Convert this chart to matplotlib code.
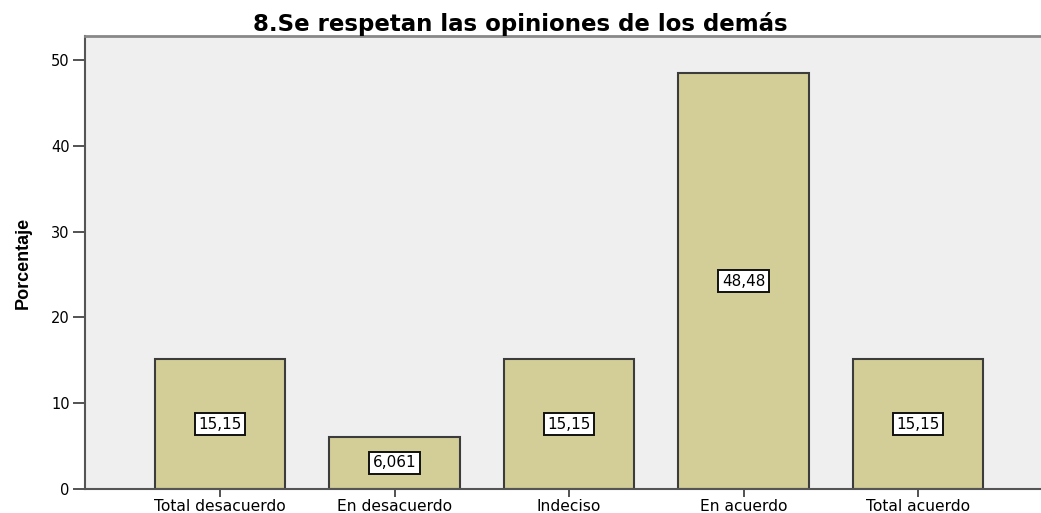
import matplotlib
matplotlib.use("Agg")
import matplotlib.pyplot as plt
import numpy as np

categorias = ["Total desacuerdo", "En desacuerdo", "Indeciso", "En acuerdo", "Total acuerdo"]
porcentajes = [15.15, 6.061, 15.15, 48.48, 15.15]
etiquetas = ["15,15", "6,061", "15,15", "48,48", "15,15"]
y_ticks = [0, 10, 20, 30, 40, 50]

fig = plt.figure(figsize=(10.41, 5.13), dpi=100)
ax = fig.add_axes([85 / 1041, 1 - 489 / 513, 1 - 85 / 1041, (489 - 36) / 513])
ax.set_facecolor("#efefef")

x = np.arange(len(categorias))
ax.bar(x, porcentajes, width=0.75, color="#d3ce97", edgecolor="#3c3c3c", linewidth=1.5, zorder=2)

for xi, v, lab in zip(x, porcentajes, etiquetas):
    ax.text(xi, v / 2, lab, ha="center", va="center", fontsize=11, family="DejaVu Sans",
            bbox=dict(boxstyle="square,pad=0.22", facecolor="white", edgecolor="#111111", linewidth=1.4),
            zorder=3)

ax.set_xlim(-0.774, 4.705)
ax.set_ylim(0, 52.8)
ax.set_xticks(x)
ax.set_xticklabels(categorias, fontsize=11.2, family="DejaVu Sans")
ax.set_yticks(y_ticks)
ax.set_yticklabels([str(t) for t in y_ticks], fontsize=10.5, family="DejaVu Sans")
ax.tick_params(axis="y", direction="out", length=9, width=1.3, color="#444444", pad=2)
ax.tick_params(axis="x", direction="out", length=6, width=1.3, color="#444444", pad=1)

for s in ["left", "bottom"]:
    ax.spines[s].set_color("#555555")
    ax.spines[s].set_linewidth(1.5)
ax.spines["top"].set_color("#888888")
ax.spines["top"].set_linewidth(2)
ax.spines["right"].set_visible(False)

ax.set_ylabel("Porcentaje", fontsize=13, fontweight="bold",
              family=["Liberation Sans Narrow", "Liberation Sans", "DejaVu Sans"], labelpad=14)

fig.text(0.5, 1 - 31 / 513, "8.Se respetan las opiniones de los demás", ha="center", va="baseline",
         fontsize=16.5, fontweight="bold", family="DejaVu Sans")

fig.savefig("out.png", dpi=100)
